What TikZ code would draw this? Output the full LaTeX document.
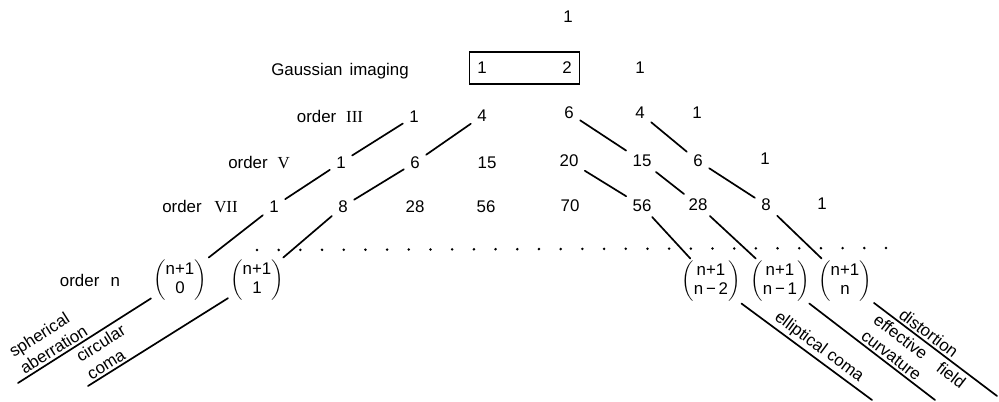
\documentclass[tikz,border=0pt]{standalone}
\usepackage{amsmath}
\usepackage{fontspec}
\setsansfont{Liberation Sans}
\newfontfamily\romfont{Liberation Serif}
\usetikzlibrary{fit}
\newcommand{\bicoef}[2]{$\left(\begin{array}{@{}c@{}}\text{#1}\\[-1pt]\text{#2}\end{array}\right)$}
\newcommand{\ordlabel}[2]{order\hspace{#1}{\romfont #2}}

\begin{document}
\begin{tikzpicture}[x=0.025cm,y=-0.025cm,line width=1.2pt,line cap=round,
  every node/.style={font=\sffamily\fontsize{12}{14.5}\selectfont},
  num/.style={inner xsep=4pt,inner ysep=3pt},
  bico/.style={inner sep=1pt},
  tag/.style={sloped,inner sep=1.5pt,align=left}]
\useasboundingbox (0,0) rectangle (999,401);
% 顶行
\node[num] (t1) at (568,17) {1};
% 高斯成像行（方框圈住 1 2）
\node[anchor=base] (gauss) at (340,75) {Gaussian\hspace{5pt}imaging};
\node[num] (g1) at (482,68) {1};
\node[num] (g2) at (567,68) {2};
\node[num] (g3) at (640,67.5) {1};
\node[draw,inner xsep=1pt,inner ysep=3.5pt,fit=(g1)(g2)] (gbox) {};
% 各阶标签
\node[anchor=base] (o3) at (330,122.5) {\ordlabel{7pt}{III}};
\node[anchor=base] (o5) at (259,168.5) {\ordlabel{7pt}{V}};
\node[anchor=base] (o7) at (200,212.5) {\ordlabel{9pt}{VII}};
\node[anchor=base] (on) at (90,286) {order\hspace{8pt}n};
% 三、五、七阶系数
\foreach \x/\y/\v [count=\i] in {414/116.5/1,482/116/4,569/113/6,640/113/4,697/112.5/1}
  \node[num] (c3-\i) at (\x,\y) {\v};
\foreach \x/\y/\v [count=\i] in {341/162.5/1,415/162.5/6,487/162.5/15,569/161/20,
    642/161/15,698/161/6,765/159/1}
  \node[num] (c5-\i) at (\x,\y) {\v};
\foreach \x/\y/\v [count=\i] in {274/206.5/1,343/206.5/8,415/206.5/28,486/206.5/56,
    570/206/70,642/206/56,698/205/28,766/205/8,822/204/1}
  \node[num] (c7-\i) at (\x,\y) {\v};
% 点行
\foreach \i in {0,...,29}
  \fill ({257+21.69*\i},{250-0.07*\i}) circle (1.4);
% n 阶二项式系数
\node[bico] (b0) at (180,280) {\bicoef{n+1}{0}};
\node[bico] (b1) at (257,280) {\bicoef{n+1}{1}};
\node[bico] (b2) at (711,281) {\bicoef{n+1}{n\,−\,2}};
\node[bico] (b3) at (780,281) {\bicoef{n+1}{n\,−\,1}};
\node[bico] (b4) at (845,281) {\bicoef{n+1}{n}};
% 斜线末端
\coordinate (sph) at (18,383);
\coordinate (cc) at (88,386);
\coordinate (ell) at (872,400);
\coordinate (efc) at (935,400);
\coordinate (dis) at (997,396);
% 左侧斜线（球差、彗差）
\draw (sph) -- node[tag,pos=0.045,anchor=south west] {spherical\\aberration}
  (b0) -- (c7-1) -- (c5-1) -- (c3-1);
\draw (cc) -- node[tag,pos=0.02,anchor=south west] {circular\\coma}
  (b1) -- (c7-2) -- (c5-2) -- (c3-2);
% 右侧斜线
\draw (c5-4) -- (c7-6) -- (b2)
  -- node[tag,pos=0.2,anchor=south west] {elliptical coma} (ell);
\draw (c3-3) -- (c5-5) -- (c7-7) -- (b3)
  -- node[tag,pos=0.37,anchor=south west] {effective\quad field\\curvature} (efc);
\draw (c3-4) -- (c5-6) -- (c7-8) -- (b4)
  -- node[tag,pos=0.16,anchor=south west] {distortion} (dis);
\end{tikzpicture}
\end{document}
